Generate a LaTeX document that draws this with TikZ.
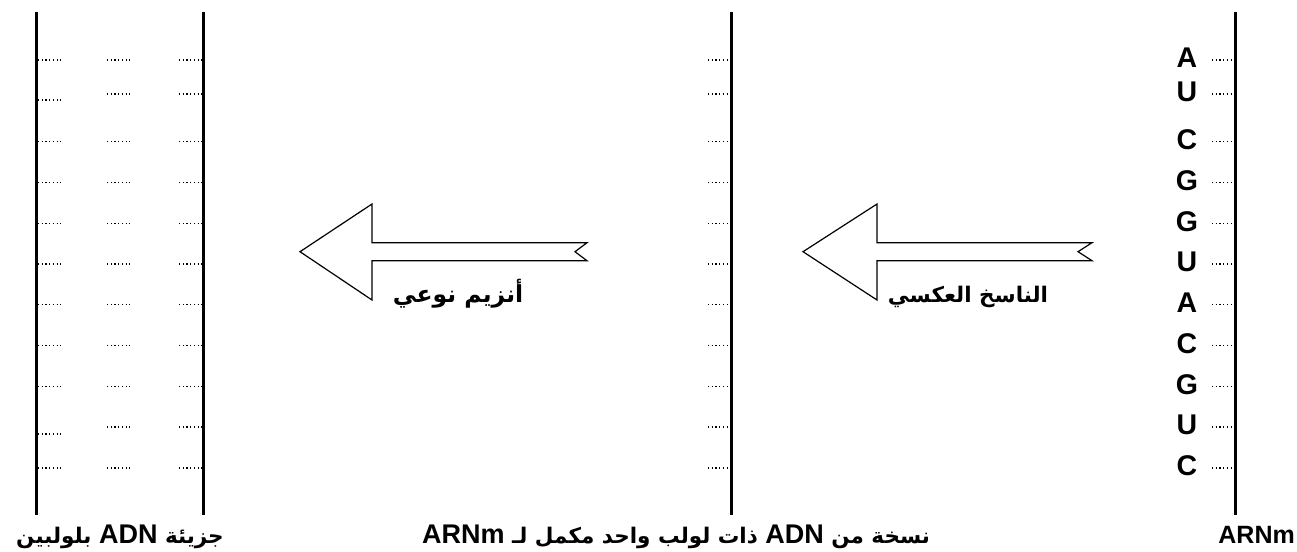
\documentclass[tikz,border=0pt]{standalone}
\usepackage{fontspec}
\setmainfont{Liberation Sans}
\newfontfamily\latinfont{Liberation Sans}
\newfontfamily\arabicfont[Script=Arabic]{DejaVu Sans}
\TeXXeTstate=1
\newcommand\latbig[1]{\beginL{\latinfont\fontsize{27}{27}\selectfont #1}\endL}
\begin{document}
\begin{tikzpicture}[x=1pt,y=-1pt,
  strand/.style={line width=3pt},
  hbond/.style={line width=1.1pt, dash pattern=on 1.1pt off 2.6pt},
  blockarrow/.style={draw, line width=1.2pt, line join=miter},
  basetxt/.style={font=\fontsize{28.5}{28.5}\selectfont\bfseries, inner sep=0pt, text depth=0pt},
  labeltxt/.style={font=\fontsize{21.5}{21.5}\selectfont\bfseries, inner sep=0pt, anchor=base},
  arrowtxt/.style={font=\bfseries, inner sep=0pt, anchor=base}
]
\useasboundingbox (0,0) rectangle (1297,551);
% strands
\coordinate (d1t) at (36,12);   \coordinate (d1b) at (36,515);
\coordinate (d2t) at (203,12);  \coordinate (d2b) at (203,515);
\coordinate (ct)  at (731,12);  \coordinate (cb)  at (731,515);
\coordinate (rt)  at (1235,12); \coordinate (rb)  at (1235,515);
\draw[strand] (d1t) -- (d1b);
\draw[strand] (d2t) -- (d2b);
\draw[strand] (ct) -- (cb);
\draw[strand] (rt) -- (rb);
% hydrogen bonds (dotted)
\foreach \y/\yl in {60/60, 94/100, 141.7/141.7, 182.5/182.5, 223.3/223.3, 264/264, 304.8/304.8, 345.6/345.6, 386.4/386.4, 427/434, 468/468}{
  \draw[hbond] (38,\yl) -- (61,\yl);
  \draw[hbond] (107,\y) -- (130,\y);
  \draw[hbond] (179,\y) -- (201.5,\y);
  \draw[hbond] (708,\y) -- (729.5,\y);
  \draw[hbond] (1212,\y) -- (1233.5,\y);
}
% RNA bases
\foreach \y/\b [count=\i] in {60/A, 94/U, 141.7/C, 182.5/G, 223.3/G, 264/U, 304.8/A, 345.6/C, 386.4/G, 427/U, 468/C}{
  \node[basetxt] (b\i) at (1187,\y-2) {\b};
}
% block arrows
\draw[blockarrow] (300,251.7) -- (372,204) -- (372,242.7) -- (587,242.7) -- (575,251.7)
   -- (587,260.7) -- (372,260.7) -- (372,300) -- cycle;
\draw[blockarrow] (803,251.7) -- (877,204) -- (877,242.7) -- (1092,242.7) -- (1078,251.7)
   -- (1092,260.7) -- (877,260.7) -- (877,300) -- cycle;
\node[arrowtxt] (enz) at (458,302) {\fontsize{23.5}{23.5}\selectfont\arabicfont\beginR أنزيم نوعي\endR};
\node[arrowtxt] (rt2) at (968,302) {\fontsize{21.5}{21.5}\selectfont\arabicfont\beginR الناسخ العكسي\endR};
% bottom labels
\node[labeltxt] (lab1) at (120,543) {\arabicfont\beginR جزيئة \latbig{ADN}{} بلولبين\endR};
\node[labeltxt] (lab2) at (676,543) {\arabicfont\beginR نسخة من \latbig{ADN}{} ذات لولب واحد مكمل لـ \latbig{ARNm}\endR};
\node[labeltxt, anchor=base east] (lab3) at (1295,543) {\latinfont\fontsize{25}{25}\selectfont ARNm};
\end{tikzpicture}
\end{document}
